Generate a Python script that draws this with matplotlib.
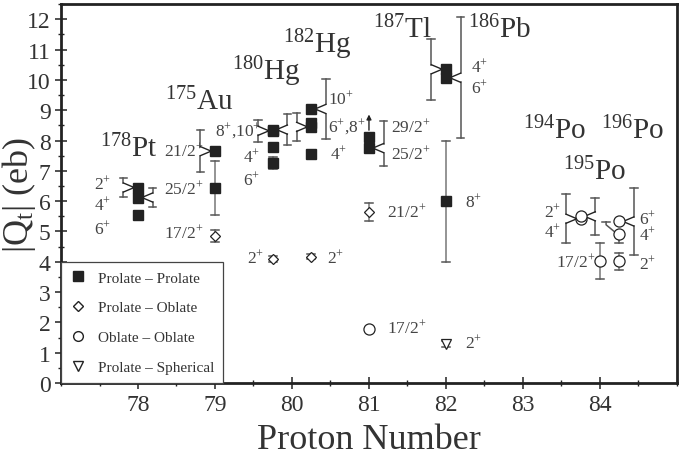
import matplotlib
matplotlib.use('Agg')
import matplotlib.pyplot as plt
from matplotlib.lines import Line2D
from matplotlib.ticker import MultipleLocator

plt.rcParams['font.family'] = 'Liberation Serif'
plt.rcParams['mathtext.fontset'] = 'custom'
plt.rcParams['mathtext.rm'] = 'Liberation Serif'
plt.rcParams['mathtext.it'] = 'Liberation Serif:italic'
plt.rcParams['mathtext.bf'] = 'Liberation Serif:bold'

# Prolate - Prolate (filled squares)
pp_z = [78.0, 78.0, 78.0, 79.0, 79.0, 79.75, 79.75, 79.75, 79.75, 80.25, 80.25, 80.25, 80.25, 81.0, 81.0, 82.0, 82.0, 82.0]
pp_q = [6.45, 6.12, 5.55, 7.65, 6.43, 8.32, 8.36, 7.77, 7.25, 9.04, 8.57, 8.45, 7.57, 8.13, 7.75, 10.35, 10.07, 6.0]
pp_lo = [0.3, 0.3, 0.12, 0.7, 0.9, 0.36, 0.5, 0.12, 0.2, 1.0, 0.0, 0.47, 0.0, 0.0, 0.6, 1.0, 2.0, 2.0]
pp_hi = [0.3, 0.3, 0.12, 0.7, 0.9, 0.36, 0.5, 0.12, 0.2, 1.0, 0.0, 0.47, 0.0, 0.0, 0.88, 1.0, 2.0, 2.0]

# Prolate - Oblate (open diamonds)
po_z = [79.0, 79.75, 80.25, 81.0]
po_q = [4.84, 4.1, 4.17, 5.65]
po_err = [0.2, 0.1, 0.08, 0.3]

# Oblate - Oblate (open circles)
oo_z = [81.0, 83.75, 83.75, 84.0, 84.25, 84.25, 84.25]
oo_q = [1.8, 5.42, 5.5, 4.02, 5.33, 4.92, 4.02]
oo_lo = [0.0, 0.8, 0.6, 0.6, 1.1, 0.3, 0.28]
oo_hi = [0.0, 0.8, 0.6, 0.6, 1.1, 0.3, 0.28]

# Prolate - Spherical (open triangle)
ps_z = [82.0]
ps_q = [1.3]
ps_err = [0.1]

# where each error bar is drawn: 0 on the point, -1 left, +1 right, 2 split
pp_side = [-1, 1, 0, -1, 0, -1, 1, 0, 0, 1, 0, -1, 0, 0, 1, -1, 1, 0]
oo_side = [0, -1, 1, 0, 1, 2, 0]

nuclei = [('178', 'Pt', 77.88, 7.74), ('175', 'Au', 78.8, 9.3), ('180', 'Hg', 79.67, 10.29),
          ('182', 'Hg', 80.33, 11.2), ('187', 'Tl', 81.44, 11.68), ('186', 'Pb', 82.7, 11.68),
          ('194', 'Po', 83.41, 8.34), ('196', 'Po', 84.42, 8.34), ('195', 'Po', 83.93, 6.98)]

spins = [('2', 77.43, 6.6, 'left'), ('4', 77.43, 5.9, 'left'), ('6', 77.43, 5.09, 'left'),
         ('21/2', 78.34, 7.68, 'left'), ('25/2', 78.34, 6.42, 'left'), ('17/2', 78.34, 4.98, 'left'),
         ('8$^{+}$,10', 79.0, 8.35, 'left'), ('4', 79.36, 7.48, 'left'), ('6', 79.36, 6.72, 'left'),
         ('2', 79.41, 4.15, 'left'), ('2', 80.46, 4.15, 'left'),
         ('10', 80.47, 9.39, 'left'), ('6$^{+}$,8', 80.47, 8.46, 'left'), ('4', 80.5, 7.57, 'left'),
         ('29/2', 81.28, 8.46, 'left'), ('25/2', 81.28, 7.57, 'left'), ('21/2', 81.23, 5.67, 'left'),
         ('17/2', 81.23, 1.85, 'left'),
         ('4', 82.33, 10.44, 'left'), ('6', 82.33, 9.75, 'left'), ('8', 82.25, 5.98, 'left'),
         ('2', 82.25, 1.35, 'left'),
         ('2', 83.49, 5.68, 'right'), ('4', 83.49, 5.0, 'right'), ('17/2', 83.94, 4.01, 'right'),
         ('6', 84.51, 5.45, 'left'), ('4', 84.51, 4.9, 'left'), ('2', 84.51, 3.94, 'left')]

ink = '#222222'
bar_c = '#555555'
OFF = 0.19
CAP = 0.05


def cap(ax, x, y):
    ax.plot([x - CAP, x + CAP], [y, y], color=bar_c, lw=1.1, zorder=1)


def draw_bar(ax, x, q, lo, hi, side):
    if lo == 0 and hi == 0:
        return
    if side == 0:
        ax.plot([x, x], [q - lo, q + hi], color='#777777', lw=1.1, zorder=1)
        cap(ax, x, q - lo)
        cap(ax, x, q + hi)
    elif side == 2:
        # lower half on the point, upper half pushed to the left
        ax.plot([x, x], [q, q - lo], color=bar_c, lw=1.1, zorder=1)
        cap(ax, x, q - lo)
        xb = x - 0.17
        ax.plot([xb, xb, x - 0.05], [q + hi + 0.1, q + hi, q + 0.05], color=bar_c, lw=1.1, zorder=1)
        ax.plot([xb - CAP, xb + CAP], [q + hi + 0.1] * 2, color=bar_c, lw=1.1, zorder=1)
    else:
        xb = x + side * OFF
        xe = x + side * 0.05
        g = min(0.15, lo * 0.5, hi * 0.5)
        ax.plot([xb, xb], [q + hi, q + g], color=bar_c, lw=1.1, zorder=1)
        ax.plot([xb, xb], [q - g, q - lo], color=bar_c, lw=1.1, zorder=1)
        ax.plot([xb, xe, xb], [q + g, q, q - g], color=ink, lw=1.0, zorder=1)
        cap(ax, xb, q - lo)
        cap(ax, xb, q + hi)


fig = plt.figure(figsize=(6.81, 4.60), dpi=100)
ax = fig.add_axes([0.0896, 0.165, 0.9044, 0.824])

for x, q, lo, hi, s in zip(pp_z, pp_q, pp_lo, pp_hi, pp_side):
    draw_bar(ax, x, q, lo, hi, s)
for x, q, lo, hi, s in zip(oo_z, oo_q, oo_lo, oo_hi, oo_side):
    draw_bar(ax, x, q, lo, hi, s)
for x, q, e in zip(po_z, po_q, po_err):
    draw_bar(ax, x, q, e, e, 0)
for x, q, e in zip(ps_z, ps_q, ps_err):
    draw_bar(ax, x, q, e, e, 0)

ax.plot(pp_z, pp_q, 's', color=ink, ms=6.5, ls='none', zorder=3)
ax.plot(po_z, po_q, 'D', mfc='white', mec=ink, mew=0.9, ms=5, ls='none', zorder=3)
ax.plot(oo_z, oo_q, 'o', mfc='white', mec=ink, mew=0.9, ms=8, ls='none', zorder=3)
ax.plot(ps_z, ps_q, 'v', mfc='white', mec=ink, mew=0.9, ms=7, ls='none', zorder=3)

# lower limit for 187Tl 29/2+
ax.annotate('', xy=(81.0, 8.95), xytext=(81.0, 8.25),
            arrowprops=dict(arrowstyle='-|>', color=ink, lw=1.0, mutation_scale=7))

for a, el, x, y in nuclei:
    ax.text(x, y, r'$^{%s}$%s' % (a, el), fontsize=21, color='#333333', ha='center', va='center')
for t, x, y, ha in spins:
    ax.text(x, y, t + r'$^{+}$', fontsize=12.5, color='#444444', ha=ha, va='center')

handles = [Line2D([], [], marker='s', color=ink, ls='none', ms=6.5),
           Line2D([], [], marker='D', mfc='white', mec=ink, ls='none', ms=5),
           Line2D([], [], marker='o', mfc='white', mec=ink, ls='none', ms=7),
           Line2D([], [], marker='v', mfc='white', mec=ink, ls='none', ms=7)]
labels = ['Prolate \u2013 Prolate', 'Prolate \u2013 Oblate', 'Oblate \u2013 Oblate', 'Prolate \u2013 Spherical']
leg = ax.legend(handles, labels, loc='lower left', bbox_to_anchor=(0, 0), borderaxespad=0,
                fontsize=11, labelspacing=1.05, handlelength=1.0, handletextpad=0.8,
                borderpad=0.6, fancybox=False, framealpha=1)
leg.get_frame().set_edgecolor('#444444')
leg.get_frame().set_linewidth(0.9)
for t in leg.get_texts():
    t.set_color('#333333')

ax.set_xlim(77, 85)
ax.set_ylim(0, 12.5)
ax.xaxis.set_minor_locator(MultipleLocator(0.5))
ax.yaxis.set_major_locator(MultipleLocator(1))
ax.yaxis.set_minor_locator(MultipleLocator(0.5))
ax.set_xticks([78, 79, 80, 81, 82, 83, 84])
ax.tick_params(which='major', direction='inout', length=8, width=1.1, labelsize=17,
               colors=ink, labelcolor='#333333', top=False, right=False)
ax.tick_params(which='minor', direction='inout', length=4, width=1.0, colors=ink, top=False, right=False)
for sp in ax.spines.values():
    sp.set_linewidth(2)
    sp.set_color(ink)

ax.set_xlabel('Proton Number', fontsize=26, color='#333333', labelpad=6)
ax.set_ylabel(r'$|\mathrm{Q}_{\mathrm{t}}|$ (eb)', fontsize=26, color='#333333')
ax.yaxis.set_label_coords(-0.037, 0.5)

fig.savefig('out.png', dpi=100)
